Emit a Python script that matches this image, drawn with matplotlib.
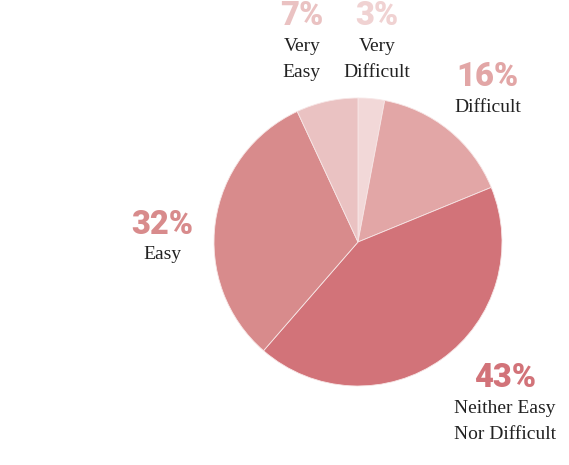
import matplotlib
matplotlib.use("Agg")
import matplotlib.pyplot as plt

categories = ["Very\nDifficult", "Difficult", "Neither Easy\nNor Difficult", "Easy", "Very\nEasy"]
values = [3, 16, 43, 32, 7]
colors = ["#f2d8d8", "#e2a6a6", "#d27379", "#d88b8c", "#eac2c2"]
pct_colors = ["#f0d2d2", "#e2a6a6", "#d27379", "#d88b8c", "#eac2c2"]

# label anchor positions in radius units (percentage text centre)
label_pos = [(0.13, 1.57), (0.90, 1.145), (1.02, -0.945), (-1.36, 0.12), (-0.39, 1.57)]

fig = plt.figure(figsize=(5.69, 4.65), dpi=100)
R = 144
cx, cy = 358, 242
W, H = 569, 465
ax = fig.add_axes([(cx - R) / W, (H - cy - R) / H, 2 * R / W, 2 * R / H])
ax.pie(values, colors=colors, startangle=90, counterclock=False, radius=1,
       wedgeprops=dict(linewidth=0.6, edgecolor="#f7e6e6"))
ax.set_xlim(-1, 1)
ax.set_ylim(-1, 1)
ax.set_aspect("equal")
ax.axis("off")

for cat, v, (x, y), pc in zip(categories, values, label_pos, pct_colors):
    ax.text(x, y, f"{v}%", ha="center", va="center", fontsize=23.5,
            fontweight="heavy", family="Roboto", color=pc, clip_on=False)
    ax.text(x, y - 0.15, cat, ha="center", va="top", fontsize=14,
            family="Liberation Serif", color="#222222", linespacing=1.75, clip_on=False)

fig.savefig("out.png", dpi=100)
